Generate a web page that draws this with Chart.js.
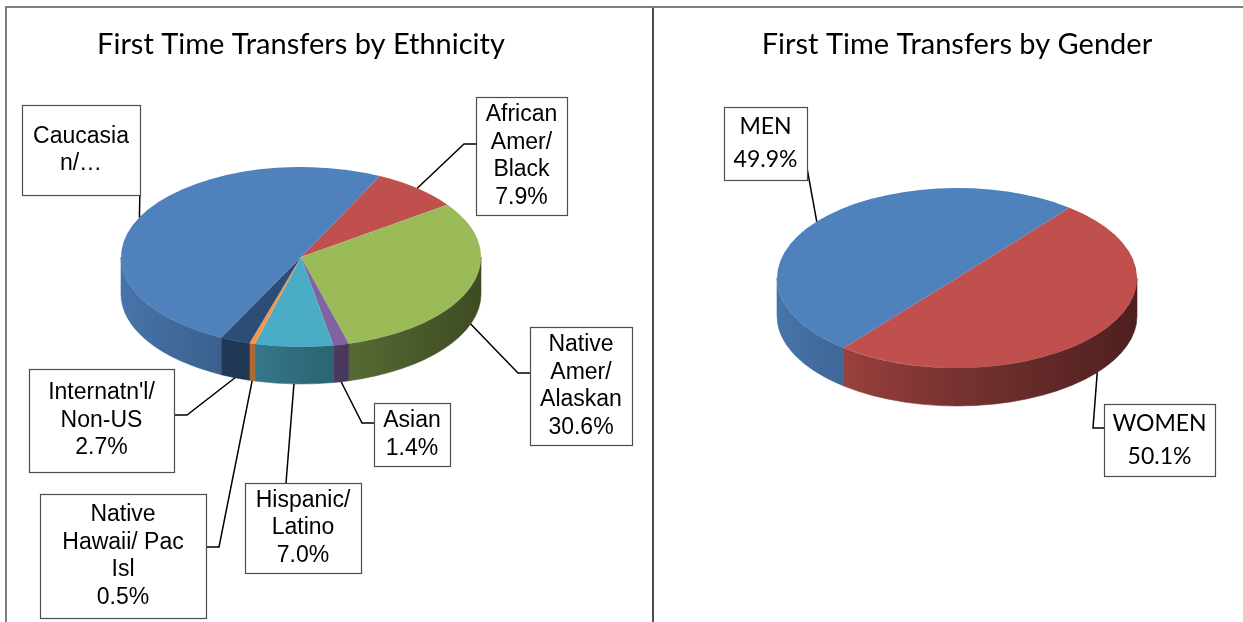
<!DOCTYPE html>
<html>
<head>
<meta charset="utf-8">
<title>First Time Transfers</title>
<script src="https://cdn.jsdelivr.net/npm/chart.js@4.4.0/dist/chart.umd.min.js"></script>
<style>
  html, body { margin: 0; padding: 0; background: #fff; }
  #wrap { position: relative; width: 1243px; height: 622px; overflow: hidden; }
  #frameL { position: absolute; left: 5px; top: 6px; width: 645px; height: 700px;
            border-top: 2px solid #7f7f7f; border-left: 2px solid #7f7f7f; border-right: 2px solid #4d4d4d; }
  #frameR { position: absolute; left: 653px; top: 6px; width: 700px; height: 700px; border-top: 2px solid #7f7f7f; }
  canvas { position: absolute; top: 0; }
  #ethChart { left: 0; }
  #genChart { left: 652px; }
</style>
</head>
<body>
<div id="wrap">
  <div id="frameL"></div>
  <div id="frameR"></div>
  <canvas id="ethChart" width="652" height="622"></canvas>
  <canvas id="genChart" width="591" height="622"></canvas>
</div>
<script>
// --- data ---------------------------------------------------------------
const ethCategories = ['African Amer/Black', 'Native Amer/Alaskan', 'Asian', 'Hispanic/Latino',
                       'Native Hawaii/ Pac Isl', "Internatn'l/Non-US", 'Caucasian/White'];
const ethValues = [7.9, 30.6, 1.4, 7.0, 0.5, 2.7, 49.9];
const ethColors = ['#C0504D', '#9BBB59', '#8064A2', '#4BACC6', '#F79646', '#2C4D75', '#4F81BD'];
// label text as it is wrapped in the callout boxes (Caucasian one is cut off)
const ethLines = [['African', 'Amer/', 'Black'], ['Native', 'Amer/', 'Alaskan'], ['Asian'],
                  ['Hispanic/', 'Latino'], ['Native', 'Hawaii/ Pac', 'Isl'], ["Internatn'l/", 'Non-US'],
                  ['Caucasia', 'n/\u2026']];
const ethShowPct = [true, true, true, true, true, true, false];

const genCategories = ['MEN', 'WOMEN'];
const genValues = [49.9, 50.1];
const genColors = ['#4F81BD', '#C0504D'];
const genLines = [['MEN'], ['WOMEN']];
const genShowPct = [true, true];

// --- callout placement (canvas px) --------------------------------------
const ethBoxes = [
  { box: [476, 97, 567, 215],  attach: [476, 144], elbow: [464, 144] },
  { box: [530, 327, 632, 445], attach: [530, 373], elbow: [518, 373] },
  { box: [374, 403, 450, 466], attach: [374, 423], elbow: [362, 423] },
  { box: [245, 483, 361, 573], attach: [286, 483], elbow: null },
  { box: [40, 494, 206, 618],  attach: [206, 547], elbow: [219, 547] },
  { box: [29, 369, 174, 472],  attach: [174, 415], elbow: [187, 415] },
  { box: [22, 105, 140, 195],  attach: [140, 183], elbow: null }
];
const genBoxes = [
  { box: [72, 107, 155, 180],  attach: [155, 168], elbow: null },
  { box: [452, 404, 563, 476], attach: [452, 428], elbow: [441, 428] }
];

function shade(hex, f) {
  const n = parseInt(hex.slice(1), 16);
  const r = Math.round(((n >> 16) & 255) * f), g = Math.round(((n >> 8) & 255) * f), b = Math.round((n & 255) * f);
  return 'rgb(' + r + ',' + g + ',' + b + ')';
}

// parts of [a0,a1] that face the viewer (lower half of the ellipse)
function frontRanges(a0, a1) {
  const TWO = Math.PI * 2;
  const s = ((a0 % TWO) + TWO) % TWO, e = s + (a1 - a0);
  const out = [];
  for (let k = 0; k <= 2; k++) {
    const lo = Math.max(s, k * TWO), hi = Math.min(e, k * TWO + Math.PI);
    if (hi > lo) out.push([lo, hi]);
  }
  return out;
}

// squash the pie into an ellipse and draw its side wall first
const pie3d = {
  id: 'pie3d',
  beforeDatasetsDraw(chart, args, o) {
    const ctx = chart.ctx;
    const arcs = chart.getDatasetMeta(0).data;
    const colors = chart.data.datasets[0].backgroundColor;
    ctx.save();
    arcs.forEach((arc, i) => {
      const p = arc.getProps(['x', 'y', 'startAngle', 'endAngle', 'outerRadius'], true);
      const ry = p.outerRadius * o.tilt;
      frontRanges(p.startAngle, p.endAngle).forEach(([lo, hi]) => {
        const g = ctx.createLinearGradient(p.x - p.outerRadius, 0, p.x + p.outerRadius, 0);
        g.addColorStop(0, shade(colors[i], 0.9));
        g.addColorStop(0.5, shade(colors[i], 0.62));
        g.addColorStop(1, shade(colors[i], 0.4));
        ctx.beginPath();
        ctx.ellipse(p.x, p.y, p.outerRadius, ry, 0, lo, hi, false);
        ctx.ellipse(p.x, p.y + o.depth, p.outerRadius, ry, 0, hi, lo, true);
        ctx.closePath();
        ctx.fillStyle = g;
        ctx.fill();
        ctx.strokeStyle = g;
        ctx.lineWidth = 0.6;
        ctx.stroke();
      });
    });
    ctx.restore();
    const c = arcs[0].getProps(['x', 'y'], true);
    ctx.save();
    ctx.translate(c.x, c.y);
    ctx.scale(1, o.tilt);
    ctx.translate(-c.x, -c.y);
  },
  afterDatasetsDraw(chart) {
    chart.ctx.restore();
  }
};

const callouts = {
  id: 'callouts',
  afterDraw(chart, args, o) {
    const ctx = chart.ctx;
    const p3 = chart.options.plugins.pie3d;
    const arcs = chart.getDatasetMeta(0).data;
    const vals = chart.data.datasets[0].data;
    const total = vals.reduce((a, b) => a + b, 0);
    ctx.save();
    o.boxes.forEach((it, i) => {
      const p = arcs[i].getProps(['x', 'y', 'startAngle', 'endAngle', 'outerRadius'], true);
      const mid = (p.startAngle + p.endAngle) / 2;
      const s = Math.sin(mid);
      const ax = p.x + p.outerRadius * Math.cos(mid);
      const ay = p.y + p.outerRadius * p3.tilt * s + (s > 0 ? p3.depth : 0);
      ctx.beginPath();
      ctx.moveTo(ax, ay);
      if (it.elbow) ctx.lineTo(it.elbow[0], it.elbow[1]);
      ctx.lineTo(it.attach[0], it.attach[1]);
      ctx.strokeStyle = '#000';
      ctx.lineWidth = 1.5;
      ctx.stroke();

      const [x0, y0, x1, y1] = it.box;
      ctx.fillStyle = '#fff';
      ctx.fillRect(x0, y0, x1 - x0, y1 - y0);
      ctx.strokeStyle = '#4d4d4d';
      ctx.lineWidth = 1.2;
      ctx.strokeRect(x0 + 0.5, y0 + 0.5, x1 - x0, y1 - y0);

      const lines = o.lines[i].slice();
      if (o.showPct[i]) lines.push((vals[i] / total * 100).toFixed(1) + '%');
      ctx.fillStyle = '#000';
      ctx.font = o.font;
      ctx.textAlign = 'center';
      ctx.textBaseline = 'middle';
      const cx = (x0 + x1) / 2, cy = (y0 + y1) / 2;
      lines.forEach((t, j) => {
        ctx.fillText(t, cx, cy + (j - (lines.length - 1) / 2) * o.lineGap);
      });
    });
    ctx.restore();
  }
};

function makePie(id, labels, values, colors, opts) {
  return new Chart(document.getElementById(id), {
    type: 'pie',
    data: {
      labels: labels,
      datasets: [{ data: values, backgroundColor: colors, borderWidth: 0, clip: false }]
    },
    plugins: [pie3d, callouts],
    options: {
      responsive: false,
      animation: false,
      events: [],
      rotation: opts.rotation,
      radius: opts.radius,
      layout: { padding: opts.padding },
      plugins: {
        legend: { display: false },
        tooltip: { enabled: false },
        title: {
          display: true, text: opts.title, color: '#000',
          font: { family: 'Lato', size: 29, weight: 'normal', lineHeight: 1.2 },
          padding: { top: 27.6, bottom: 10 }
        },
        pie3d: { tilt: 0.5, depth: opts.depth },
        callouts: { boxes: opts.boxes, lines: opts.lines, showPct: opts.showPct,
                    font: opts.labelFont, lineGap: opts.lineGap }
      }
    }
  });
}

makePie('ethChart', ethCategories, ethValues, ethColors, {
  title: 'First Time Transfers by Ethnicity',
  rotation: 26, radius: 180, depth: 37,
  padding: { left: 0, right: 50, top: 0, bottom: 180.4 },
  boxes: ethBoxes, lines: ethLines, showPct: ethShowPct,
  labelFont: '23px "Liberation Sans", Arial, sans-serif', lineGap: 27.5
});

makePie('genChart', genCategories, genValues, genColors, {
  title: 'First Time Transfers by Gender',
  rotation: 219, radius: 180, depth: 38,
  padding: { left: 19, right: 0, top: 0, bottom: 138.4 },
  boxes: genBoxes, lines: genLines, showPct: genShowPct,
  labelFont: '23px Lato, sans-serif', lineGap: 33
});
</script>
</body>
</html>
